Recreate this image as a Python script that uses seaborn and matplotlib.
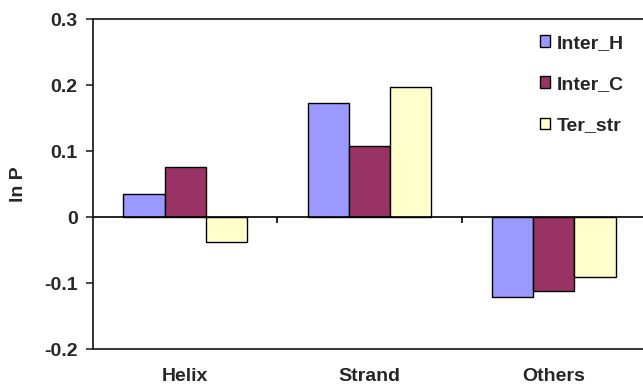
#Grouped bar chart of ln P per secondary structure class
import pandas as pd
from matplotlib import pyplot as plt
import matplotlib.ticker as mtick
import seaborn as sns

#values
categories = ['Helix', 'Strand', 'Others']
series = ['Inter_H', 'Inter_C', 'Ter_str']
inter_h = [0.035, 0.173, -0.121]
inter_c = [0.076, 0.108, -0.112]
ter_str = [-0.038, 0.197, -0.091]
colors = ['#9999FF', '#993366', '#FFFFCC']

df = pd.DataFrame({
    'structure': categories * 3,
    'series': [s for s in series for _ in categories],
    'lnP': inter_h + inter_c + ter_str,
})

sns.set_style('white')
plt.rcParams['font.family'] = ['Liberation Sans', 'DejaVu Sans']
plt.rcParams['font.weight'] = 'bold'

fig = plt.figure(figsize=(6.43, 3.86), dpi=100)
ax = fig.add_axes([93/643, 37/386, 553/643, 330/386])

sns.barplot(data=df, x='structure', y='lnP', hue='series', order=categories,
            hue_order=series, palette=colors, width=0.67, gap=0,
            edgecolor='black', linewidth=1, saturation=1, ax=ax)

ax.set_xlim(-0.5, 2.5)
ax.set_ylim(-0.2, 0.3)
ax.yaxis.set_major_locator(mtick.MultipleLocator(0.1))
ax.yaxis.set_major_formatter(mtick.FuncFormatter(lambda v, p: f'{round(v, 2):g}'))

#category axis sits on zero, with small ticks between groups
ax.axhline(0, color='black', lw=1.2, zorder=3)
ax.vlines([0.5, 1.5], -0.009, 0, color='black', lw=1.2, zorder=3)

for side in ['top', 'bottom', 'left']:
    ax.spines[side].set_color('#222222')
    ax.spines[side].set_linewidth(1.3)
ax.spines['right'].set_visible(False)

ax.tick_params(axis='y', direction='out', length=5, width=1.2, pad=6,
               left=True, labelsize=14)
ax.tick_params(axis='x', length=0, pad=14, labelsize=14)
for lab in ax.get_xticklabels() + ax.get_yticklabels():
    lab.set_fontweight('bold')

ax.set_xlabel('')
ax.set_ylabel('ln P', fontsize=14, fontweight='bold')
ax.yaxis.set_label_coords(-0.12, 0.5)

leg = ax.legend(loc='upper left', bbox_to_anchor=(530/643, 361/386),
                bbox_transform=fig.transFigure, frameon=False, fontsize=14,
                handlelength=0.55, handleheight=0.55, handletextpad=0.35,
                labelspacing=1.25, borderpad=0)
for t in leg.get_texts():
    t.set_fontweight('bold')

fig.savefig('out.png', dpi=100)
